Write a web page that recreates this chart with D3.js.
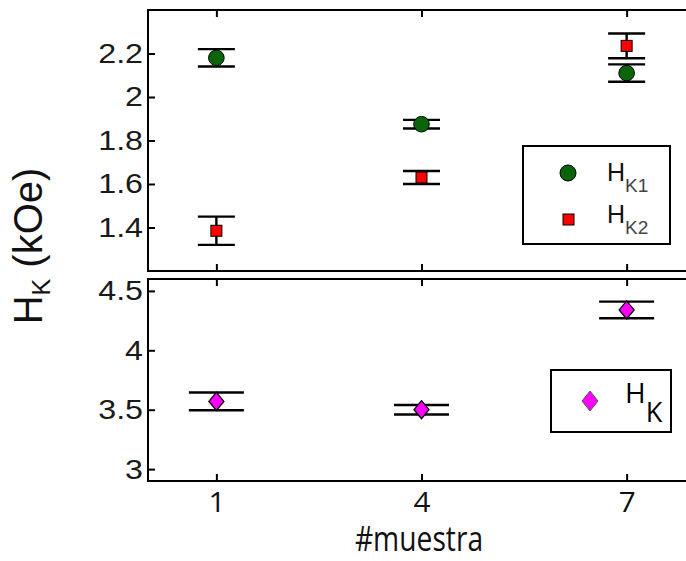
<!DOCTYPE html>
<html>
<head>
<meta charset="utf-8">
<script src="https://cdn.jsdelivr.net/npm/d3@7"></script>
<style>
  body { margin: 0; background: #fff; }
  svg { display: block; }
  .ytick text { font-family: "Liberation Sans", Arial, sans-serif; font-size: 28px; fill: #1a1a1a; }
  .xtick text { font-family: "Open Sans", sans-serif; font-size: 27px; fill: #111; }
</style>
</head>
<body>
<svg id="chart" width="686" height="561"></svg>
<script>
// samples on the x axis
const samples = [1, 4, 7];
const xTicks = [1, 4, 7];

// upper panel: HK1 and HK2 (kOe)
const hk1 = [2.18, 1.875, 2.11];
const hk1Err = [0.04, 0.02, 0.04];
const hk2 = [1.385, 1.63, 2.235];
const hk2Err = [0.065, 0.03, 0.057];
const topTicks = [1.4, 1.6, 1.8, 2.0, 2.2];
const topTickLabels = ["1.4", "1.6", "1.8", "2", "2.2"];

// lower panel: HK (kOe)
const hk = [3.57, 3.50, 4.34];
const hkErr = [0.075, 0.04, 0.07];
const botTicks = [3, 3.5, 4, 4.5];
const botTickLabels = ["3", "3.5", "4", "4.5"];

const svg = d3.select("#chart");

const x = d3.scaleLinear().domain([0, 8]).range([148, 695]);
const yTop = d3.scaleLinear().domain([1.2, 2.4]).range([271, 10]);
const yBot = d3.scaleLinear().domain([2.9, 4.6]).range([481, 279]);

function panel(y, ticks, labels, showX) {
    const g = svg.append("g");
    const [y0, y1] = y.range();
    // box
    g.append("rect")
        .attr("x", x.range()[0]).attr("y", y1)
        .attr("width", x.range()[1] - x.range()[0]).attr("height", y0 - y1)
        .attr("fill", "none").attr("stroke", "#000").attr("stroke-width", 2);

    const ya = g.append("g")
        .attr("class", "ytick")
        .attr("transform", "translate(" + x.range()[0] + ",0)")
        .call(d3.axisLeft(y).tickValues(ticks).tickSize(-7)
            .tickFormat((d, i) => labels[i]));
    ya.select(".domain").remove();
    ya.selectAll("line").attr("stroke", "#000").attr("stroke-width", 2);
    // labels are a bit wider than the font in the reference
    ya.selectAll("text")
        .attr("x", null)
        .attr("transform", "translate(-5,0) scale(1.15,1)");

    const xb = g.append("g")
        .attr("class", "xtick")
        .attr("transform", "translate(0," + y0 + ")")
        .call(d3.axisBottom(x).tickValues(xTicks).tickSize(-7).tickPadding(12));
    xb.select(".domain").remove();
    xb.selectAll("line").attr("stroke", "#000").attr("stroke-width", 2);
    if (!showX) xb.selectAll("text").remove();
    else xb.selectAll("text").attr("y", null).attr("dy", null)
        .attr("transform", "translate(0,31) scale(1.1,1)");

    const xt = g.append("g")
        .attr("transform", "translate(0," + y1 + ")")
        .call(d3.axisTop(x).tickValues(xTicks).tickSize(-7).tickFormat(""));
    xt.select(".domain").remove();
    xt.selectAll("line").attr("stroke", "#000").attr("stroke-width", 2);
    return g;
}

function errorBars(g, y, vals, errs, half) {
    const eb = g.append("g").attr("stroke", "#000").attr("stroke-width", 2.4);
    samples.forEach((s, i) => {
        const cx = x(s), lo = y(vals[i] - errs[i]), hi = y(vals[i] + errs[i]);
        eb.append("line").attr("x1", cx).attr("x2", cx).attr("y1", lo).attr("y2", hi);
        eb.append("line").attr("x1", cx - half).attr("x2", cx + half).attr("y1", lo).attr("y2", lo);
        eb.append("line").attr("x1", cx - half).attr("x2", cx + half).attr("y1", hi).attr("y2", hi);
    });
}

const diamond = (w, h) => "M0," + (-h) + "L" + w + ",0L0," + h + "L" + (-w) + ",0Z";

// upper panel
const gTop = panel(yTop, topTicks, topTickLabels, false);
errorBars(gTop, yTop, hk1, hk1Err, 18.5);
errorBars(gTop, yTop, hk2, hk2Err, 18.5);
gTop.selectAll("circle.hk1").data(hk1).join("circle")
    .attr("cx", (d, i) => x(samples[i])).attr("cy", d => yTop(d))
    .attr("r", 7.8).attr("fill", "#0a650a").attr("stroke", "#000").attr("stroke-width", 1);
gTop.selectAll("rect.hk2").data(hk2).join("rect")
    .attr("x", (d, i) => x(samples[i]) - 5.5).attr("y", d => yTop(d) - 5.5)
    .attr("width", 11).attr("height", 11)
    .attr("fill", "#ff0000").attr("stroke", "#000").attr("stroke-width", 1);

// lower panel
const gBot = panel(yBot, botTicks, botTickLabels, true);
errorBars(gBot, yBot, hk, hkErr, 27.5);
gBot.selectAll("path.hk").data(hk).join("path")
    .attr("transform", (d, i) => "translate(" + x(samples[i]) + "," + yBot(d) + ")")
    .attr("d", diamond(7.5, 9))
    .attr("fill", "#ff00ff").attr("stroke", "#000").attr("stroke-width", 1.3);

// legend, upper panel
const lg1 = svg.append("g");
lg1.append("rect").attr("x", 523).attr("y", 146).attr("width", 147).attr("height", 98)
    .attr("fill", "#fff").attr("stroke", "#000").attr("stroke-width", 2);
lg1.append("circle").attr("cx", 568).attr("cy", 173).attr("r", 8)
    .attr("fill", "#0a650a").attr("stroke", "#000").attr("stroke-width", 1);
lg1.append("rect").attr("x", 563).attr("y", 214).attr("width", 11).attr("height", 11)
    .attr("fill", "#ff0000").attr("stroke", "#000").attr("stroke-width", 1);
[["K1", 181], ["K2", 223]].forEach(([sub, yb]) => {
    const t = lg1.append("text").attr("x", 607).attr("y", yb)
        .style("font-family", "'Liberation Sans', Arial, sans-serif").style("font-size", "25px").attr("fill", "#111");
    t.append("tspan").text("H");
    t.append("tspan").attr("dy", 11).style("font-size", "19px").attr("fill", "#444").text(sub);
});

// legend, lower panel
const lg2 = svg.append("g");
lg2.append("rect").attr("x", 551).attr("y", 370).attr("width", 120).attr("height", 62)
    .attr("fill", "#fff").attr("stroke", "#000").attr("stroke-width", 2);
lg2.append("path").attr("transform", "translate(590,401)").attr("d", diamond(8, 10))
    .attr("fill", "#ff00ff").attr("stroke", "#555").attr("stroke-width", 1);
const t2 = lg2.append("text").attr("x", 625).attr("y", 403)
    .style("font-family", "'Open Sans', sans-serif").style("font-size", "28px").attr("fill", "#000");
t2.append("tspan").text("H");
t2.append("tspan").attr("dy", 19).style("font-size", "27px").text("K");

// axis titles
svg.append("text")
    .attr("transform", "translate(42,246) rotate(-90)")
    .attr("text-anchor", "middle")
    .style("font-family", "'Liberation Sans', Arial, sans-serif").style("font-size", "40px").attr("fill", "#111")
    .call(t => {
        t.append("tspan").text("H");
        t.append("tspan").attr("dy", 8).style("font-size", "25px").text("K");
        t.append("tspan").attr("dy", -8).text(" (kOe)");
    });

svg.append("text")
    .attr("transform", "translate(419,551) scale(0.83,1)")
    .attr("text-anchor", "middle")
    .style("font-family", "'Open Sans', sans-serif").style("font-size", "34px").attr("fill", "#111")
    .text("#muestra");
</script>
</body>
</html>
